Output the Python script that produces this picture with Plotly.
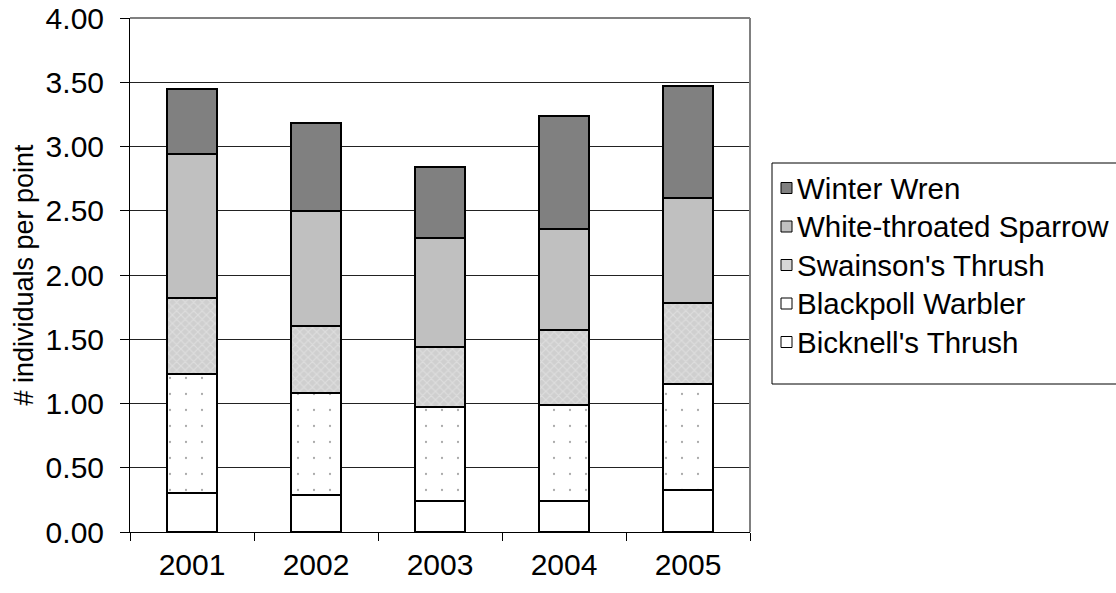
import plotly.graph_objects as go

# Survey years and mean counts per point for each species (stacked)
years = ["2001", "2002", "2003", "2004", "2005"]
bicknells_thrush = [0.30, 0.29, 0.24, 0.24, 0.33]
blackpoll_warbler = [0.93, 0.79, 0.73, 0.75, 0.82]
swainsons_thrush = [0.59, 0.52, 0.47, 0.58, 0.63]
white_throated_sparrow = [1.12, 0.90, 0.85, 0.79, 0.82]
winter_wren = [0.51, 0.68, 0.55, 0.88, 0.87]

y_ticks = [0, 0.5, 1.0, 1.5, 2.0, 2.5, 3.0, 3.5, 4.0]

FONT = "Liberation Sans, Arial, sans-serif"
FS = 30
W, H = 1116, 593
ML, MR, MT, MB = 130, 366, 18, 61
outline = dict(color="black", width=2)

# name, values, bar marker, legend swatch colour
series = [
    ("Bicknell's Thrush", bicknells_thrush,
     dict(color="white", line=outline), "white"),
    ("Blackpoll Warbler", blackpoll_warbler,
     dict(color="white", line=outline,
          pattern=dict(shape=".", fgcolor="#555555", bgcolor="white",
                       size=16, solidity=0.016)), "white"),
    ("Swainson's Thrush", swainsons_thrush,
     dict(color="#d2d2d2", line=outline,
          pattern=dict(shape="x", fgcolor="#ececec", bgcolor="#cfcfcf",
                       size=6, solidity=0.35)), "#d6d6d6"),
    ("White-throated Sparrow", white_throated_sparrow,
     dict(color="#c0c0c0", line=outline), "#c0c0c0"),
    ("Winter Wren", winter_wren,
     dict(color="#808080", line=outline), "#808080"),
]

fig = go.Figure()
for name, vals, marker, _ in series:
    fig.add_trace(go.Bar(x=years, y=vals, name=name, marker=marker,
                         width=0.41, showlegend=False))


def px_x(px):
    return (px - ML) / (W - ML - MR)


def px_y(py):
    return (H - MB - py) / (H - MT - MB)


# Boxed legend to the right of the plot, top of the stack listed first
shapes = [
    dict(type="rect", xref="paper", yref="paper",
         x0=px_x(772), x1=px_x(1122), y0=px_y(163), y1=px_y(384),
         line=dict(color="black", width=1), fillcolor="white"),
    dict(type="line", xref="paper", yref="paper", x0=0, x1=1, y0=1, y1=1,
         line=dict(color="#808080", width=2)),
    dict(type="line", xref="paper", yref="paper", x0=1, x1=1, y0=0, y1=1,
         line=dict(color="#808080", width=2)),
]
annotations = []
for k, (name, _, _, swatch) in enumerate(reversed(series)):
    cy = 188 + 38.5 * k
    shapes.append(dict(type="rect", xref="paper", yref="paper",
                       x0=px_x(781), x1=px_x(792), y0=px_y(cy - 5.5), y1=px_y(cy + 5.5),
                       line=dict(color="black", width=1), fillcolor=swatch))
    annotations.append(dict(xref="paper", yref="paper", x=px_x(795), y=px_y(cy),
                            xanchor="left", yanchor="middle", showarrow=False,
                            text=name, font=dict(family=FONT, size=29.5, color="black")))

fig.update_layout(
    barmode="stack",
    width=W, height=H,
    margin=dict(l=ML, r=MR, t=MT, b=MB, autoexpand=False),
    paper_bgcolor="white", plot_bgcolor="white",
    font=dict(family=FONT, size=FS, color="black"),
    showlegend=False,
    xaxis=dict(
        type="category", showline=True, linecolor="black", linewidth=1,
        ticks="outside", tickson="boundaries", ticklen=8, tickcolor="black",
        showgrid=False, tickfont=dict(size=FS), ticklabelstandoff=6,
        automargin=False,
    ),
    yaxis=dict(
        range=[0, 4], tickvals=y_ticks, tickformat=".2f",
        showline=True, linecolor="black", linewidth=1,
        ticks="outside", ticklen=9, tickcolor="black",
        showgrid=True, gridcolor="#222222", gridwidth=1,
        zeroline=False, tickfont=dict(size=FS), ticklabelstandoff=10,
        automargin=False,
        title=dict(text="# individuals per point", font=dict(size=27), standoff=4),
    ),
    shapes=shapes,
    annotations=annotations,
)

fig.write_html("out.html")
